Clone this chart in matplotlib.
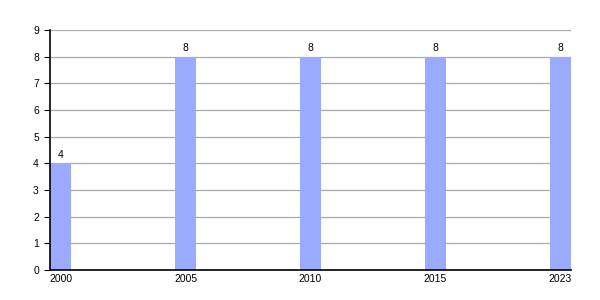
import numpy as np
import matplotlib
matplotlib.use("Agg")
from matplotlib import pyplot as plt

plt.rcParams['font.family'] = ['Liberation Sans', 'DejaVu Sans']

# data
years = ["2000", "2005", "2010", "2015", "2023"]
values = [4, 8, 8, 8, 8]

w = 0.168
x = np.arange(len(years))

fig = plt.figure(figsize=(6, 3), dpi=100)
ax = fig.add_axes([50 / 600, 30 / 300, 521 / 600, 240 / 300])

bars = ax.bar(x, values, width=w, color="#99aaff", zorder=2)
for xi, v in zip(x, values):
    ax.text(xi, v + 0.12, str(v), ha="center", va="bottom", fontsize=7.5)

ax.set_xlim(-w / 2, len(years) - 1 + w / 2)
ax.set_ylim(0, 9)
ax.set_yticks(range(0, 10))
ax.set_xticks(x)
ax.set_xticklabels(years)
ax.tick_params(axis="both", labelsize=7.5, width=0.8, color="black")
ax.tick_params(axis="y", length=4, pad=4)
ax.tick_params(axis="x", length=0, pad=3)
ax.yaxis.grid(True, color="#aaaaaa", linewidth=0.9, zorder=1)
ax.set_axisbelow(True)
for s in ["top", "right"]:
    ax.spines[s].set_visible(False)
ax.spines["left"].set_linewidth(1.2)
ax.spines["bottom"].set_linewidth(1.2)

fig.savefig("out.png", dpi=100)
